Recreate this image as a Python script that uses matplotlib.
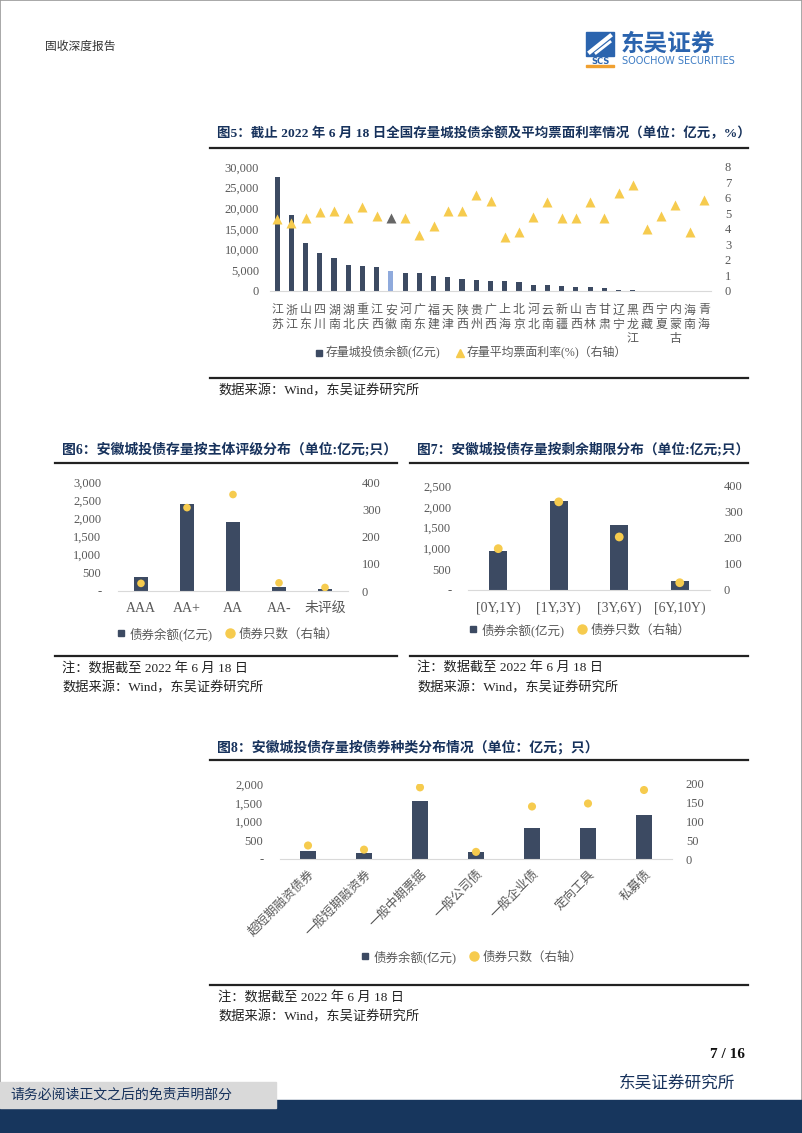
import numpy as np
import matplotlib
matplotlib.use("Agg")
import matplotlib.pyplot as plt
from matplotlib.lines import Line2D
from matplotlib.patches import Rectangle

plt.rcParams['font.family'] = ['Liberation Serif', 'Noto Sans CJK SC', 'DejaVu Sans']
plt.rcParams['axes.unicode_minus'] = False

# ---- 图5 数据 ----
provinces = ['江苏', '浙江', '山东', '四川', '湖南', '湖北', '重庆', '江西', '安徽', '河南',
             '广东', '福建', '天津', '陕西', '贵州', '广西', '上海', '北京', '河北', '云南',
             '新疆', '山西', '吉林', '甘肃', '辽宁', '黑龙江', '西藏', '宁夏', '内蒙古', '海南', '青海']
balance = [27600, 18300, 11500, 9200, 7900, 6300, 6100, 5800, 4850, 4350,
           4250, 3700, 3450, 2820, 2750, 2500, 2330, 2170, 1450, 1370,
           1200, 1050, 970, 720, 240, 160, 80, 60, 50, 20, 10]
coupon = [4.62, 4.36, 4.68, 5.11, 5.17, 4.68, 5.43, 4.83, 4.70, 4.72,
          3.60, 4.18, 5.19, 5.13, 6.22, 5.82, 3.48, 3.78, 4.79, 5.75,
          4.74, 4.70, 5.71, 4.72, 6.35, 6.82, 4.03, 4.87, 5.58, 3.80, 5.86]

# ---- 图6 数据 ----
rating = ['AAA', 'AA+', 'AA', 'AA-', '未评级']
rating_amt = [390, 2390, 1890, 110, 45]
rating_cnt = [28, 306, 354, 30, 13]

# ---- 图7 数据 ----
term = ['[0Y,1Y)', '[1Y,3Y)', '[3Y,6Y)', '[6Y,10Y)']
term_amt = [940, 2150, 1560, 207]
term_cnt = [159, 339, 204, 28]

# ---- 图8 数据 ----
kind = ['超短期融资债券', '一般短期融资券', '一般中期票据', '一般公司债', '一般企业债', '定向工具', '私募债']
kind_amt = [213, 151, 1556, 178, 818, 836, 1182]
kind_cnt = [36, 25, 191, 19, 140, 148, 184]

BAR = '#3C4A62'
LIGHT = '#8FAADC'
GOLD = '#F6CB4E'
GREY = '#595959'
NAVY = '#17325C'

W, H = 802, 1133
fig = plt.figure(figsize=(8.02, 11.33), dpi=100)


def box(x0, y0, x1, y1):
    return fig.add_axes([x0 / W, 1 - y1 / H, (x1 - x0) / W, (y1 - y0) / H])


def ftext(x, y, s, **kw):
    fig.text(x / W, 1 - y / H, s, **kw)


def hline(x0, x1, y, lw=1.6, color='#222222'):
    fig.add_artist(Line2D([x0 / W, x1 / W], [1 - y / H, 1 - y / H], lw=lw, color=color))


def clean(ax):
    for s in ax.spines.values():
        s.set_visible(False)
    ax.tick_params(length=0, colors=GREY, labelsize=9)
    ax.patch.set_alpha(0)


def fmt(v, zero='-'):
    return zero if v == 0 else f'{v:,}'


# 页面边框
fig.add_artist(Rectangle((0, 0), 1, 1, transform=fig.transFigure, fill=False,
                         edgecolor='#9A9A9A', lw=1.2))

# ---- 页眉 ----
ftext(45, 47, '固收深度报告', fontsize=8.5, color='#333333', va='center')
fig.add_artist(Rectangle((586 / W, 1 - 56 / H), 28 / W, 24 / H, transform=fig.transFigure,
                         color='#2B64AE'))
fig.add_artist(Line2D([590 / W, 610 / W], [1 - 52 / H, 1 - 36 / H], lw=3, color='white'))
fig.add_artist(Line2D([596 / W, 610 / W], [1 - 53 / H, 1 - 42 / H], lw=2, color='white'))
ftext(600, 61, 'SCS', fontsize=6, color='#2B64AE', weight='bold', ha='center', va='center',
      family='DejaVu Sans')
fig.add_artist(Rectangle((586 / W, 1 - 67 / H), 28 / W, 2 / H, transform=fig.transFigure,
                         color='#F0A030'))
ftext(621, 44, '东吴证券', fontsize=17, color='#2B64AE', weight='bold', va='center',
      family='Noto Sans CJK SC')
ftext(622, 61, 'SOOCHOW SECURITIES', fontsize=7, color='#3D7CC4', va='center',
      family='DejaVu Sans')

# ---- 图5 ----
ftext(217, 133, '图5：截止 2022 年 6 月 18 日全国存量城投债余额及平均票面利率情况（单位：亿元，%）',
      fontsize=9.7, weight='bold', color=NAVY, va='center')
hline(210, 748, 148)
ax = box(270, 167, 711, 291)
ax2 = ax.twinx()
x = np.arange(len(provinces))
colors = [LIGHT if p == '安徽' else BAR for p in provinces]
ax.bar(x, balance, 0.36, color=colors, zorder=2)
for i in x:
    ax2.plot(i, coupon[i], marker='^', ms=6.5, ls='none',
             color='#666666' if provinces[i] == '安徽' else GOLD, mec='none')
ax.set_xlim(-0.5, len(provinces) - 0.5)
ax.set_ylim(0, 30000)
ax2.set_ylim(0, 8)
yt = list(range(0, 30001, 5000))
ax.set_yticks(yt)
ax.set_yticklabels([fmt(v, '0') for v in yt])
ax2.set_yticks(range(0, 9))
ax.set_xticks(x)
ax.set_xticklabels(['\n'.join(p) for p in provinces], linespacing=1.15,
                   family='Noto Sans CJK SC')
for a in (ax, ax2):
    clean(a)
ax.tick_params(axis='x', pad=9, labelsize=8.6)
ax.tick_params(axis='y', pad=8)
ax2.tick_params(axis='y', pad=10)
ax.spines['bottom'].set_visible(True)
ax.spines['bottom'].set_color('#D9D9D9')
h5 = [Line2D([], [], marker='s', ls='none', color=BAR, ms=4.5),
      Line2D([], [], marker='^', ls='none', color=GOLD, ms=6)]
ax.legend(h5, ['存量城投债余额(亿元)', '存量平均票面利率(%)（右轴）'], loc='center',
          bbox_to_anchor=(470 / W, 1 - 353 / H), bbox_transform=fig.transFigure, ncol=2,
          frameon=False, fontsize=8.6, handletextpad=0.0, columnspacing=1.2,
          handlelength=1.0, labelcolor=GREY)
hline(210, 748, 378)
ftext(218, 391, '数据来源：Wind，东吴证券研究所', fontsize=9.5, color='#222222', va='center')


def dual(rect, cats, amt, cnt, ymax, ystep, y2max, y2step, dot_s, rotate=False):
    ax = box(*rect)
    ax2 = ax.twinx()
    xx = np.arange(len(cats))
    ax.bar(xx, amt, 0.3, color=BAR, zorder=2)
    ax2.scatter(xx, cnt, s=dot_s, color=GOLD, zorder=3, edgecolors='none')
    ax.set_xlim(-0.5, len(cats) - 0.5)
    ax.set_ylim(0, ymax)
    ax2.set_ylim(0, y2max)
    t = list(range(0, ymax + 1, ystep))
    ax.set_yticks(t)
    ax.set_yticklabels([fmt(v) for v in t])
    ax2.set_yticks(range(0, y2max + 1, y2step))
    ax.set_xticks(xx)
    for a in (ax, ax2):
        clean(a)
    ax.spines['bottom'].set_visible(True)
    ax.spines['bottom'].set_color('#D9D9D9')
    ax.tick_params(axis='y', pad=12)
    ax2.tick_params(axis='y', pad=10)
    if rotate:
        ax.set_xticklabels(cats, rotation=45, ha='right', va='top', rotation_mode='anchor',
                           family='Noto Sans CJK SC', fontsize=9)
        ax.tick_params(axis='x', pad=6)
    else:
        ax.set_xticklabels(cats, fontsize=10)
        ax.tick_params(axis='x', pad=8)
    return ax


def legend2(ax, cx, cy):
    hh = [Line2D([], [], marker='s', ls='none', color=BAR, ms=4.5),
          Line2D([], [], marker='o', ls='none', color=GOLD, ms=6.5)]
    ax.legend(hh, ['债券余额(亿元)', '债券只数（右轴）'], loc='center',
              bbox_to_anchor=(cx / W, 1 - cy / H), bbox_transform=fig.transFigure, ncol=2,
              frameon=False, fontsize=9, handletextpad=0.1, columnspacing=0.8,
              handlelength=1.2, labelcolor=GREY)


# ---- 图6 ----
ftext(62, 450, '图6：安徽城投债存量按主体评级分布（单位:亿元;只）', fontsize=10,
      weight='bold', color=NAVY, va='center')
hline(55, 397, 463)
a6 = dual((118, 482, 348, 591), rating, rating_amt, rating_cnt, 3000, 500, 400, 100, 30)
legend2(a6, 226, 634)
hline(55, 397, 656)
ftext(62, 668, '注：数据截至 2022 年 6 月 18 日', fontsize=9.5, color='#222222', va='center')
ftext(62, 688, '数据来源：Wind，东吴证券研究所', fontsize=9.5, color='#222222', va='center')

# ---- 图7 ----
ftext(417, 450, '图7：安徽城投债存量按剩余期限分布（单位:亿元;只）', fontsize=9.9,
      weight='bold', color=NAVY, va='center')
hline(410, 748, 463)
a7 = dual((468, 486, 710, 590), term, term_amt, term_cnt, 2500, 500, 400, 100, 40)
legend2(a7, 578, 630)
hline(410, 748, 656)
ftext(417, 667, '注：数据截至 2022 年 6 月 18 日', fontsize=9.5, color='#222222', va='center')
ftext(417, 688, '数据来源：Wind，东吴证券研究所', fontsize=9.5, color='#222222', va='center')

# ---- 图8 ----
ftext(217, 747, '图8：安徽城投债存量按债券种类分布情况（单位：亿元；只）', fontsize=10,
      weight='bold', color=NAVY, va='center')
hline(210, 748, 760)
a8 = dual((280, 784, 672, 859), kind, kind_amt, kind_cnt, 2000, 500, 200, 50, 34, rotate=True)
legend2(a8, 470, 957)
hline(210, 748, 985)
ftext(218, 997, '注：数据截至 2022 年 6 月 18 日', fontsize=9.5, color='#222222', va='center')
ftext(218, 1017, '数据来源：Wind，东吴证券研究所', fontsize=9.5, color='#222222', va='center')

# ---- 页脚 ----
ftext(745, 1055, '7 / 16', fontsize=11, weight='bold', ha='right', va='center', color='#111111')
ftext(735, 1083, '东吴证券研究所', fontsize=12, ha='right', va='center', color=NAVY,
      family='Noto Sans CJK SC')
fig.add_artist(Rectangle((0, 0), 1, 33 / H, transform=fig.transFigure, color='#17365D'))
fig.add_artist(Rectangle((0, 1 - 1108 / H), 276 / W, 26 / H, transform=fig.transFigure,
                         color='#D9D9D9'))
ftext(10, 1095, '请务必阅读正文之后的免责声明部分', fontsize=10, va='center', color=NAVY,
      family='Noto Sans CJK SC')

fig.savefig('out.png', dpi=100)
